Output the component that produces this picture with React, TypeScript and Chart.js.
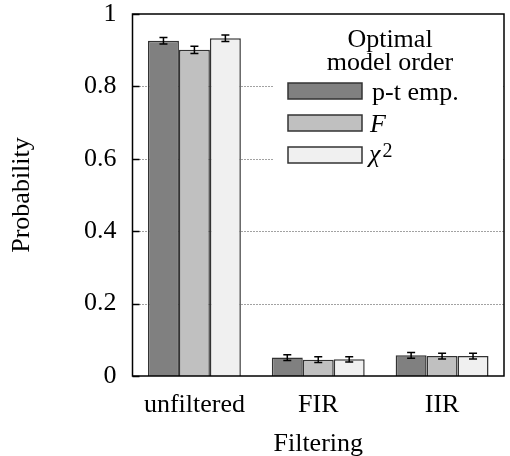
import React, { useEffect, useRef } from "react";
import { Chart, registerables } from "chart.js";

Chart.register(...registerables);

const categories = ["unfiltered", "FIR", "IIR"];
const seriesLabels = ["p-t emp.", "F", "χ²"];
const ptEmp = [0.926, 0.051, 0.057];
const fStat = [0.901, 0.045, 0.055];
const chi2 = [0.933, 0.046, 0.055];
const ptEmpErr = [0.009, 0.008, 0.008];
const fStatErr = [0.010, 0.008, 0.008];
const chi2Err = [0.009, 0.007, 0.008];
const legendTitle = ["Optimal", "model order"];
const xTitle = "Filtering";
const yTitle = "Probability";

const FONT = "'Liberation Serif', 'Times New Roman', serif";
const FS = 26;
const fills = ["#808080", "#c0c0c0", "#f0f0f0"];
const errs = [ptEmpErr, fStatErr, chi2Err];

const decorPlugin = {
  id: "decor",
  beforeDatasetsDraw(chart: any) {
    const { ctx, chartArea } = chart;
    const y = chart.scales.y;
    ctx.save();
    y.ticks.forEach((t: any) => {
      const py = Math.round(y.getPixelForValue(t.value)) + 0.5;
      if (t.value > 0 && t.value < 1) {
        ctx.strokeStyle = "#444";
        ctx.lineWidth = 1;
        ctx.setLineDash([1, 2]);
        ctx.beginPath();
        ctx.moveTo(chartArea.left + 7, py);
        ctx.lineTo(chartArea.right, py);
        ctx.stroke();
      }
      ctx.setLineDash([]);
      ctx.strokeStyle = "#000";
      ctx.lineWidth = 1.5;
      ctx.beginPath();
      ctx.moveTo(chartArea.left, py);
      ctx.lineTo(chartArea.left + 7, py);
      ctx.stroke();
    });
    ctx.restore();
  },
  afterDatasetsDraw(chart: any) {
    const { ctx, chartArea } = chart;
    const y = chart.scales.y;
    ctx.save();
    // error bars
    ctx.strokeStyle = "#000";
    ctx.lineWidth = 1.5;
    chart.data.datasets.forEach((ds: any, i: number) => {
      const meta = chart.getDatasetMeta(i);
      meta.data.forEach((bar: any, j: number) => {
        const v = ds.data[j];
        const e = errs[i][j];
        const x = bar.x;
        const y1 = y.getPixelForValue(v + e);
        const y2 = y.getPixelForValue(v - e);
        ctx.beginPath();
        ctx.moveTo(x, y1);
        ctx.lineTo(x, y2);
        ctx.moveTo(x - 4, y1);
        ctx.lineTo(x + 4, y1);
        ctx.moveTo(x - 4, y2);
        ctx.lineTo(x + 4, y2);
        ctx.stroke();
      });
    });
    // legend
    ctx.fillStyle = "#fff";
    ctx.fillRect(274, chartArea.top + 1, chartArea.right - 275, 160);
    ctx.fillStyle = "#000";
    ctx.textAlign = "center";
    ctx.textBaseline = "alphabetic";
    ctx.font = `${FS}px ${FONT}`;
    ctx.fillText(legendTitle[0], 390, 47);
    ctx.fillText(legendTitle[1], 390, 70);
    chart.data.datasets.forEach((ds: any, i: number) => {
      const by = 83 + i * 32;
      ctx.fillStyle = fills[i];
      ctx.fillRect(288, by, 74, 16);
      ctx.strokeStyle = "#333";
      ctx.lineWidth = 1.5;
      ctx.strokeRect(288, by, 74, 16);
      ctx.fillStyle = "#000";
      ctx.textAlign = "left";
      const lab = ds.label as string;
      if (lab === "F") {
        ctx.font = `italic ${FS}px ${FONT}`;
        ctx.fillText(lab, 370, by + 16.5);
      } else if (lab.endsWith("²")) {
        ctx.font = `italic ${FS}px ${FONT}`;
        const base = lab.slice(0, -1);
        ctx.fillText(base, 369, by + 15);
        const w = ctx.measureText(base).width;
        ctx.font = `20px ${FONT}`;
        ctx.fillText("2", 369 + w + 2, by + 10);
      } else {
        ctx.font = `${FS}px ${FONT}`;
        ctx.fillText(lab, 372, by + 17);
      }
    });
    // frame
    ctx.strokeStyle = "#000";
    ctx.lineWidth = 1.5;
    ctx.strokeRect(chartArea.left, chartArea.top, chartArea.right - chartArea.left, chartArea.bottom - chartArea.top);
    ctx.restore();
  },
};

export default function App() {
  const ref = useRef<HTMLCanvasElement | null>(null);
  useEffect(() => {
    document.body.style.margin = "0";
    if (!ref.current) return;
    const datasets = [ptEmp, fStat, chi2].map((d, i) => ({
      label: seriesLabels[i],
      data: d,
      backgroundColor: fills[i],
      borderColor: "#333",
      borderWidth: 1.5,
      categoryPercentage: 0.75,
      barPercentage: 1,
    }));
    const chart = new Chart(ref.current, {
      type: "bar",
      data: { labels: categories, datasets },
      options: {
        responsive: false,
        animation: false,
        devicePixelRatio: 1,
        layout: { padding: { top: 14, right: 6, left: 0, bottom: 0 } },
        plugins: { legend: { display: false }, tooltip: { enabled: false } },
        scales: {
          x: {
            grid: { display: false, drawTicks: false },
            border: { display: false },
            ticks: { color: "#000", font: { family: FONT, size: FS }, padding: 14 },
            title: {
              display: true,
              text: xTitle,
              color: "#000",
              font: { family: FONT, size: FS },
              padding: { top: 0, bottom: -4 },
            },
            afterFit: (s: any) => {
              s.height = 80;
              s.paddingLeft = 0;
              s.paddingRight = 0;
            },
          },
          y: {
            min: 0,
            max: 1,
            grid: { display: false, drawTicks: false },
            border: { display: false },
            ticks: {
              stepSize: 0.2,
              color: "#000",
              font: { family: FONT, size: FS },
              padding: 16,
              callback: (v: any) => String(parseFloat(Number(v).toFixed(1))),
            },
            title: {
              display: true,
              text: yTitle,
              color: "#000",
              font: { family: FONT, size: FS },
              padding: { top: 7, bottom: 0 },
            },
            afterFit: (s: any) => {
              s.width = 132.5;
              s.paddingTop = 0;
              s.paddingBottom = 0;
            },
          },
        },
      },
      plugins: [decorPlugin],
    });
    return () => chart.destroy();
  }, []);
  return <canvas ref={ref} width={510} height={456} />;
}
